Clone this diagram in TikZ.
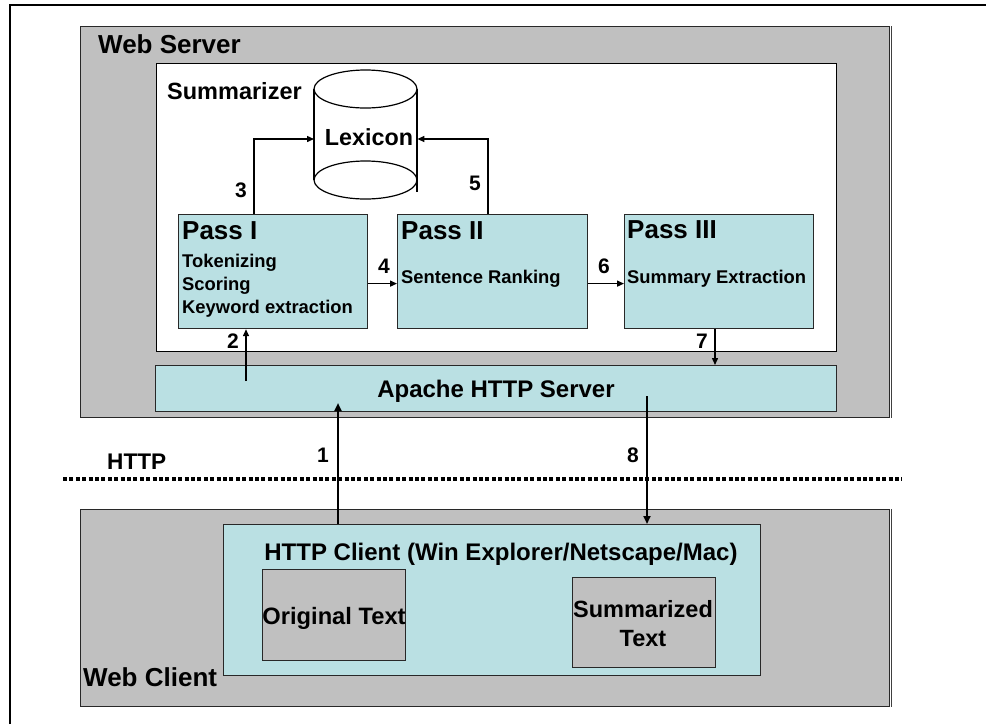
\documentclass[tikz,border=0pt]{standalone}
\usepackage{fontspec}
\setmainfont{Liberation Sans}
\usetikzlibrary{arrows.meta}
\definecolor{greyc}{RGB}{192,192,192}
\definecolor{bluec}{RGB}{186,224,227}
\definecolor{edgec}{RGB}{40,40,40}
\newcommand\fsz[1]{\fontsize{#1}{#1}\selectfont\bfseries}
\begin{document}
\begin{tikzpicture}[x=1pt,y=-1pt,
  box/.style={draw=edgec, line width=1.2pt, inner sep=0pt, anchor=north west},
  gbox/.style={box, fill=greyc},
  bbox/.style={box, fill=bluec},
  wbox/.style={box, fill=white, draw=black},
  arr/.style={-{Triangle[length=7pt,width=6pt]}, line width=1.4pt},
  arrB/.style={-{Triangle[length=8pt,width=7pt]}, line width=2pt},
  num/.style={anchor=base, inner sep=0pt, font=\fsz{21}},
  ttl/.style={anchor=base west, inner sep=0pt, font=\fsz{26}},
  body/.style={anchor=base west, inner sep=0pt, font=\fsz{18.4}},
  ctr/.style={anchor=base, inner sep=0pt, align=center, font=\fsz{24}}
]
\useasboundingbox (0,0) rectangle (986,724);
% outer frame (partly visible)
\draw[line width=2pt] (10,724) -- (10,5) -- (986,5);

% Web Server
\node[gbox, minimum width=809pt, minimum height=391pt] (ws) at (80,26) {};
\draw[line width=1.5pt, black!75] ([xshift=1.5pt]ws.north east) -- ([xshift=1.5pt]ws.south east);
\node[anchor=base west, inner sep=0pt, font=\fsz{26}] (wst) at (98,53) {Web Server};

% Summarizer
\node[wbox, minimum width=680pt, minimum height=288pt] (sum) at (156,63) {};
\node[anchor=base west, inner sep=0pt, font=\fsz{23.5}] (sumt) at (167,99) {Summarizer};

% Lexicon cylinder
\node[anchor=north west, inner sep=0pt, minimum width=103pt, minimum height=129pt] (lex) at (314,70) {};
\fill[white] (314,89) rectangle (417,180);
\draw[line width=1.2pt] (365.5,180) ellipse[x radius=51.5pt, y radius=19pt];
\draw[line width=1.2pt] (314,89) -- (314,180) (417,89) -- (417,192);
\draw[line width=1.2pt, fill=white] (365.5,89) ellipse[x radius=51.5pt, y radius=19pt];
\node[anchor=base, inner sep=0pt, font=\fsz{23.3}] (lext) at (369,145) {Lexicon};

% Passes
\node[bbox, minimum width=189pt, minimum height=114pt] (p1) at (178,214) {};
\node[bbox, minimum width=190pt, minimum height=114pt] (p2) at (397,214) {};
\node[bbox, minimum width=189pt, minimum height=114pt] (p3) at (624,214) {};
\node[ttl] (p1t) at (182,239) {Pass I};
\node[body] (p1a) at (182,267) {Tokenizing};
\node[body] (p1b) at (182,290) {Scoring};
\node[body] (p1c) at (182,313) {Keyword extraction};
\node[ttl] (p2t) at (401,239) {Pass II};
\node[body] (p2a) at (401,283) {Sentence Ranking};
\node[ttl] (p3t) at (627,238) {Pass III};
\node[body] (p3a) at (627,283) {Summary Extraction};

% Apache
\node[bbox, minimum width=681pt, minimum height=46pt] (ap) at (155,365) {};
\node[ctr] (apt) at (496,397) {Apache HTTP Server};

% Web Client
\node[gbox, minimum width=809pt, minimum height=197pt] (wc) at (80,509) {};
\draw[line width=1.5pt, black!75] ([xshift=1.5pt]wc.north east) -- ([xshift=1.5pt]wc.south east);
\node[bbox, minimum width=537pt, minimum height=151pt] (hc) at (223,524) {};
\node[ctr] (hct) at (501,560) {HTTP Client (Win Explorer/Netscape/Mac)};
\node[gbox, minimum width=143pt, minimum height=91pt] (ot) at (262,569) {};
\node[gbox, minimum width=143pt, minimum height=90pt] (st) at (572,577) {};
\node[ctr, font=\fsz{23.7}] (ott) at (334,624) {Original Text};
\node[ctr, font=\fsz{23.5}] (stt1) at (643,617) {Summarized};
\node[ctr, font=\fsz{23.5}] (stt2) at (643,646) {Text};
\node[anchor=base west, inner sep=0pt, font=\fsz{26}] (wct) at (83,686) {Web Client};

% HTTP boundary
\coordinate (hl) at (63,479);
\coordinate (hr) at (902,479);
\draw[line width=4pt, dash pattern=on 4pt off 2.4pt] (hl) -- (hr);
\node[anchor=base west, inner sep=0pt, font=\fsz{22.6}] (httpt) at (107,469) {HTTP};

% connectors
\coordinate (c3) at (254,139);
\coordinate (c5) at (488,139);
\draw[arr] (c3 |- p1.north) -- (c3) -- (c3 -| lex.west);
\draw[arr] (c5 |- p2.north) -- (c5) -- (c5 -| lex.east);
\draw[arr] ([yshift=-12pt]p1.east) -- ([yshift=-12pt]p2.west);
\draw[arr] ([yshift=-12pt]p2.east) -- ([yshift=-12pt]p3.west);
\coordinate (c2) at (246,381);
\draw[arr] (c2) -- (c2 |- p1.south);
\coordinate (c7) at (715,330);
\draw[arr] (c7 |- p3.south) -- (c7 |- ap.north);
\coordinate (c1) at (338,403);
\draw[arrB] (c1 |- hc.north) -- (c1);
\coordinate (c8) at (647,396);
\draw[arrB] (c8) -- (c8 |- hc.north);

% labels
\node[num] (n3) at (241,197) {3};
\node[num] (n5) at (475,190) {5};
\node[num] (n4) at (384,273) {4};
\node[num] (n6) at (604,273) {6};
\node[num] (n2) at (233,348) {2};
\node[num] (n7) at (702,348) {7};
\node[num] (n1) at (323,462) {1};
\node[num] (n8) at (633,462) {8};
\end{tikzpicture}
\end{document}
